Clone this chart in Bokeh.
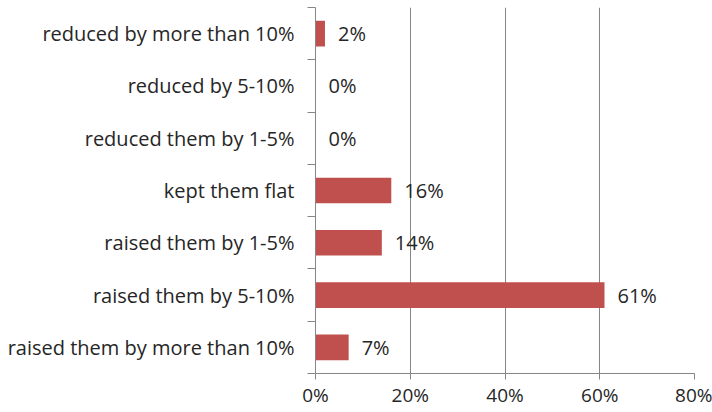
from bokeh.plotting import figure
from bokeh.models import ColumnDataSource, FixedTicker, NumeralTickFormatter, Range1d
from bokeh.embed import file_html
from bokeh.resources import INLINE
from bokeh.core.properties import value

# data, listed bottom to top
categories = [
    "raised them by more than 10%",
    "raised them by 5-10%",
    "raised them by 1-5%",
    "kept them flat",
    "reduced them by 1-5%",
    "reduced by 5-10%",
    "reduced by more than 10%",
]
shares = [0.07, 0.61, 0.14, 0.16, 0.0, 0.0, 0.02]
labels = ["7%", "61%", "14%", "16%", "0%", "0%", "2%"]
x_ticks = [0.0, 0.2, 0.4, 0.6, 0.8]

FONT = "Open Sans"
TEXT = "#262626"
GRAY = "#868686"
BAR = "#C0504D"

n = len(categories)
ypos = [i + 0.5 for i in range(n)]

src = ColumnDataSource(dict(y=ypos, share=shares, label=labels, cat=categories))

p = figure(width=712, height=412, output_backend="svg", toolbar_location=None,
           x_range=Range1d(0, 0.8), y_range=Range1d(0, n),
           min_border_left=315, min_border_right=18, min_border_top=7, min_border_bottom=39)
p.outline_line_color = None
p.background_fill_color = "white"
p.border_fill_color = "white"

p.hbar(y="y", right="share", left=0, height=0.49, source=src, color=BAR, line_color=None)
p.text(x="share", y="y", text="label", source=src, x_offset=13,
       text_font=value(FONT), text_font_size="20px", text_color=TEXT,
       text_baseline="middle", text_align="left")

# x axis
p.xaxis.ticker = FixedTicker(ticks=x_ticks, minor_ticks=[])
p.xaxis.formatter = NumeralTickFormatter(format="0%")
p.xaxis.axis_line_color = GRAY
p.xaxis.major_tick_line_color = GRAY
p.xaxis.major_tick_out = 6
p.xaxis.major_tick_in = 0
p.xaxis.minor_tick_line_color = None
p.xaxis.major_label_text_font = FONT
p.xaxis.major_label_text_font_size = "19px"
p.xaxis.major_label_text_color = TEXT
p.xaxis.major_label_standoff = 2

# y axis: labels at category centres, tick marks at boundaries
p.yaxis.ticker = FixedTicker(ticks=ypos, minor_ticks=list(range(n + 1)))
p.yaxis.major_label_overrides = {y: c for y, c in zip(ypos, categories)}
p.yaxis.axis_line_color = GRAY
p.yaxis.major_tick_line_color = None
p.yaxis.major_tick_out = 0
p.yaxis.major_tick_in = 0
p.yaxis.minor_tick_line_color = GRAY
p.yaxis.minor_tick_out = 8
p.yaxis.minor_tick_in = 0
p.yaxis.major_label_text_font = FONT
p.yaxis.major_label_text_font_size = "20px"
p.yaxis.major_label_text_color = TEXT
p.yaxis.major_label_standoff = 13

p.xgrid.grid_line_color = GRAY
p.xgrid.grid_line_alpha = 1.0
p.ygrid.grid_line_color = None

open("out.html", "w").write(file_html(p, INLINE))
